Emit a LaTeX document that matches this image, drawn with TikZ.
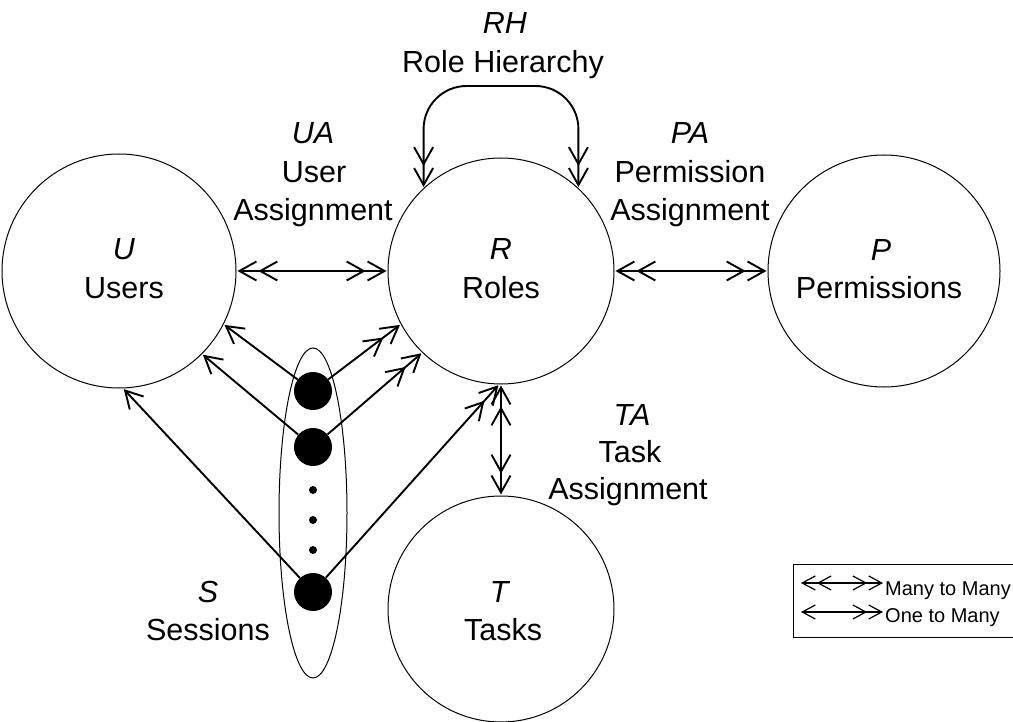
\documentclass[tikz,border=0pt]{standalone}
\usepackage{fontspec}
\setmainfont{Liberation Sans}
\usetikzlibrary{arrows.meta,shapes.geometric}
\begin{document}
\begin{tikzpicture}[x=1pt,y=-1pt,
  >={Straight Barb[length=17pt,width=19pt,sep=1pt]},
  link/.style={line width=1.9pt},
  entity/.style={circle,draw,line width=1pt,inner sep=0pt},
  session/.style={circle,fill,inner sep=0pt,minimum size=38pt},
  dotmark/.style={circle,fill,inner sep=0pt,minimum size=8pt},
  lbl/.style={font=\fontsize{30.5}{36}\selectfont,inner sep=0pt,anchor=base},
  keytext/.style={font=\fontsize{20}{24}\selectfont,inner sep=0pt,anchor=base west},
  keylink/.style={line width=1.2pt,>={Straight Barb[length=13pt,width=14pt,sep=1pt]}}]
\useasboundingbox (0,0) rectangle (1013,722);

% entity sets
\node[entity,minimum size=234pt] (U) at (119,271) {};
\node[entity,minimum size=226pt] (R) at (501,271) {};
\node[entity,minimum size=232pt] (P) at (884,271) {};
\node[entity,minimum size=226pt] (T) at (501,609) {};

% sessions
\node[ellipse,draw,line width=1pt,inner sep=0pt,minimum width=68pt,minimum height=330pt] (S) at (313,513) {};
\node[session] (s1) at (313,391) {};
\node[session] (s2) at (313,447) {};
\node[dotmark] (d1) at (313,490) {};
\node[dotmark] (d2) at (313,520) {};
\node[dotmark] (d3) at (313,550) {};
\node[session] (s3) at (313,592) {};

% labels
\node[lbl] (rh1) at (505,34) {\textit{RH}};
\node[lbl] (rh2) at (503,73) {Role Hierarchy};
\node[lbl] (ua1) at (313,144) {\textit{UA}};
\node[lbl] (ua2) at (314,183) {User};
\node[lbl] (ua3) at (313,221) {Assignment};
\node[lbl] (pa1) at (690,144) {\textit{PA}};
\node[lbl] (pa2) at (690,183) {Permission};
\node[lbl] (pa3) at (690,221) {Assignment};
\node[lbl] (u1) at (124,260) {\textit{U}};
\node[lbl] (u2) at (124,299) {Users};
\node[lbl] (r1) at (501,260) {\textit{R}};
\node[lbl] (r2) at (501,299) {Roles};
\node[lbl] (p1) at (881,261) {\textit{P}};
\node[lbl] (p2) at (879,299) {Permissions};
\node[lbl] (ta1) at (632,425) {\textit{TA}};
\node[lbl] (ta2) at (630,462) {Task};
\node[lbl] (ta3) at (628,499) {Assignment};
\node[lbl] (sl1) at (208,602) {\textit{S}};
\node[lbl] (sl2) at (208,640) {Sessions};
\node[lbl] (tl1) at (500,602) {\textit{T}};
\node[lbl] (tl2) at (503,640) {Tasks};

% assignments
\draw[link,<<->>] (U) -- (R);
\draw[link,<<->>] (R) -- (P);
\draw[link,<<->>] (R) -- (T);
\draw[link,<<->>,rounded corners=43pt] (R.133) -- ++(0,-102) -| (R.47);

% session links
\draw[link,->] (s1) -- (U.-27);
\draw[link,->] (s2) -- (U.-45);
\draw[link,->] (s3) -- (U.-88);
\draw[link,->>] (s1) -- (R.-152);
\draw[link,->>] (s2) -- (R.-134);
\draw[link,->>] (s3) -- (R.-91);

% key
\draw[line width=1pt] (1013,564) -- (793,564) -- (793,637) -- (1013,637);
\coordinate (k1a) at (800,583);
\coordinate (k1b) at (884,583);
\coordinate (k2a) at (800,612);
\coordinate (k2b) at (884,612);
\draw[keylink,<<->>] (k1a) -- (k1b);
\draw[keylink,<->>] (k2a) -- (k2b);
\node[keytext] (kt1) at (885,595) {Many to Many};
\node[keytext] (kt2) at (885,622) {One to Many};
\end{tikzpicture}
\end{document}
